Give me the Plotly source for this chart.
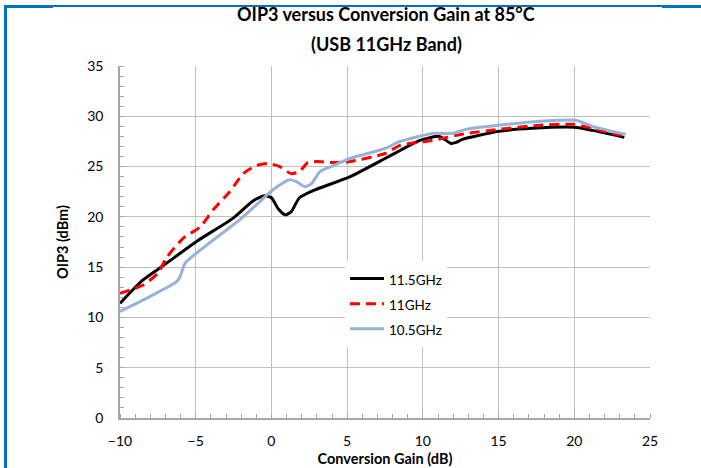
import plotly.graph_objects as go

# ---- data ----
x_115 = [-10, -8.5, -7.1, -4.9, -2.5, -1.2, -0.45, 0.0, 0.45, 0.9, 1.3, 1.85, 2.75, 5.2, 7.5, 8.5, 9.8, 11.1, 11.85, 12.2, 12.6, 15.0, 17.2, 20.0, 21.2, 23.3]
y_115 = [11.4, 13.7, 15.2, 17.6, 19.9, 21.6, 22.1, 21.9, 20.8, 20.2, 20.5, 21.9, 22.6, 24.0, 25.8, 26.6, 27.6, 28.0, 27.3, 27.4, 27.7, 28.5, 28.8, 28.9, 28.6, 27.9]

x_11 = [-10, -8.5, -7.5, -6.9, -5.8, -4.7, -3.85, -2.75, -1.85, -1.0, -0.2, 0.55, 1.3, 1.85, 2.4, 3.0, 4.1, 5.2, 7.5, 8.5, 10.6, 12.9, 15.0, 17.7, 19.9, 21.2, 22.5, 23.5]
y_11 = [12.4, 13.2, 14.4, 16.0, 17.9, 19.0, 20.7, 22.5, 24.3, 25.1, 25.3, 25.0, 24.3, 24.5, 25.4, 25.5, 25.4, 25.5, 26.3, 27.1, 27.6, 28.3, 28.7, 29.1, 29.2, 28.8, 28.3, 28.0]

x_105 = [-10, -8.0, -6.3, -6.05, -5.7, -4.95, -4.1, -2.1, -1.0, 0.1, 1.2, 1.65, 2.2, 2.65, 3.2, 4.1, 5.2, 7.5, 8.5, 10.65, 11.95, 12.85, 15.0, 17.7, 20.1, 21.2, 23.4]
y_105 = [10.6, 12.1, 13.5, 14.0, 15.4, 16.4, 17.4, 19.7, 21.2, 22.7, 23.7, 23.5, 23.0, 23.3, 24.5, 25.1, 25.8, 26.8, 27.5, 28.3, 28.3, 28.7, 29.1, 29.5, 29.6, 29.0, 28.2]

names = ["11.5GHz", "11GHz", "10.5GHz"]
x_ticks = [-10, -5, 0, 5, 10, 15, 20, 25]
y_ticks = [0, 5, 10, 15, 20, 25, 30, 35]

title_1 = "OIP3 versus Conversion Gain at 85°C"
title_2 = "(USB 11GHz Band)"
x_title = "Conversion Gain (dB)"
y_title = "OIP3 (dBm)"

# ---- layout geometry (pixels) ----
W, H = 701, 468
L, R, T, B = 120, 650, 66, 418
PW, PH = R - L, B - T


def px(xp):
    return (xp - L) / PW


def py(yp):
    return (B - yp) / PH


FONT = "Lato"
BLUE_FRAME = "#0070C0"
GRID = "#C0C0C0"


def leg_name(s):
    return '<span style="font-size:13.5px">%s</span>' % s


fig = go.Figure()
fig.add_trace(go.Scatter(x=x_115, y=y_115, name=leg_name(names[0]), mode="lines",
                         line=dict(color="#000000", width=3, shape="spline", smoothing=0.6)))
fig.add_trace(go.Scatter(x=x_11, y=y_11, name=leg_name(names[1]), mode="lines",
                         line=dict(color="#FF0000", width=3, dash="10px,6px", shape="spline", smoothing=0.6)))
fig.add_trace(go.Scatter(x=x_105, y=y_105, name=leg_name(names[2]), mode="lines",
                         line=dict(color="#95B3D7", width=3, shape="spline", smoothing=0.6)))

axis_common = dict(
    showgrid=True, gridcolor=GRID, gridwidth=1,
    showline=True, linecolor="#A6A6A6", linewidth=1.5, mirror=False,
    zeroline=False, ticks="", tickfont=dict(family=FONT, size=14, color="#000000"),
    minor=dict(dtick=1, ticks="inside", ticklen=4, tickcolor="#A6A6A6", showgrid=False),
)

fig.update_xaxes(range=[-10, 25], tickvals=x_ticks, ticklabelstandoff=9,
                 title=dict(text="<b>%s</b>" % x_title, font=dict(family=FONT, size=14.5, color="#000"), standoff=6),
                 **axis_common)
fig.update_yaxes(range=[0, 35], tickvals=y_ticks, ticklabelstandoff=12,
                 title=dict(text="<b>%s</b>" % y_title, font=dict(family=FONT, size=14.5, color="#000"), standoff=15),
                 **axis_common)

fig.update_layout(
    width=W, height=H,
    margin=dict(l=L, r=W - R, t=T, b=H - B, autoexpand=False),
    paper_bgcolor="white", plot_bgcolor="white",
    showlegend=True,
    legend=dict(x=px(345), y=py(261), xanchor="left", yanchor="top",
                bgcolor="white", borderwidth=0,
                font=dict(family=FONT, size=17, color="#000"),
                tracegroupgap=0, itemwidth=34),
    annotations=[
        dict(text="<b>%s</b>" % title_1, x=px(386), y=py(14), xref="paper", yref="paper",
             showarrow=False, font=dict(family=FONT, size=18, color="#000"), xanchor="center", yanchor="middle"),
        dict(text="<b>%s</b>" % title_2, x=px(386), y=py(44), xref="paper", yref="paper",
             showarrow=False, font=dict(family=FONT, size=18, color="#000"), xanchor="center", yanchor="middle"),
    ],
    shapes=[
        dict(type="rect", xref="paper", yref="paper", x0=px(4), x1=px(7), y0=py(5), y1=py(468),
             fillcolor=BLUE_FRAME, line=dict(width=0)),
        dict(type="rect", xref="paper", yref="paper", x0=px(4), x1=px(53), y0=py(5), y1=py(8),
             fillcolor=BLUE_FRAME, line=dict(width=0)),
        dict(type="rect", xref="paper", yref="paper", x0=px(53), x1=px(662), y0=py(5), y1=py(7),
             fillcolor=BLUE_FRAME, line=dict(width=0)),
        dict(type="rect", xref="paper", yref="paper", x0=px(662), x1=px(701), y0=py(5), y1=py(8),
             fillcolor=BLUE_FRAME, line=dict(width=0)),
    ],
)

fig.write_html("out.html")
